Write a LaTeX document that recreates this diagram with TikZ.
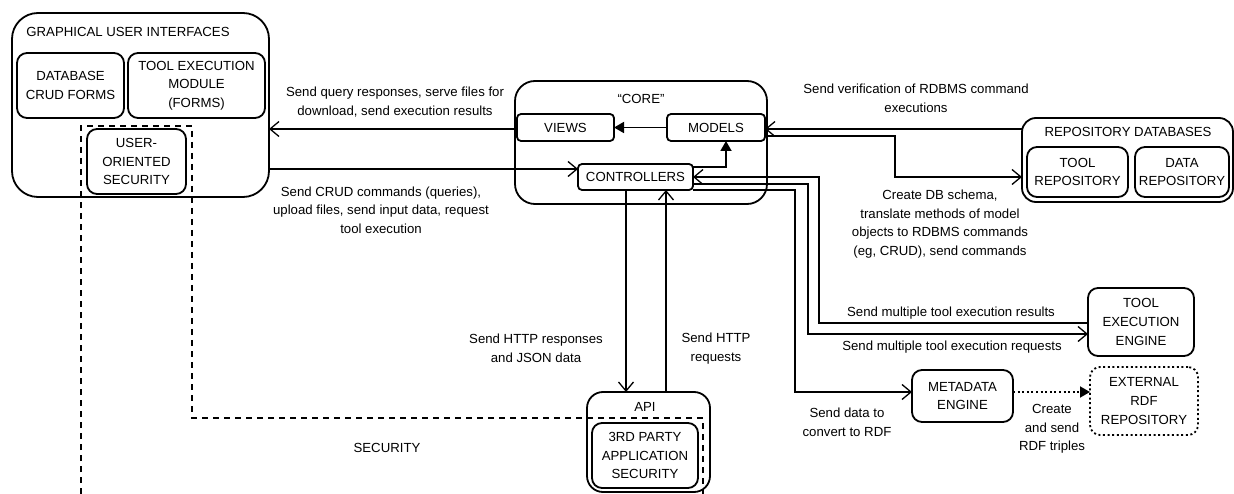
\documentclass[tikz,border=0pt]{standalone}
\usepackage{fontspec}
\setmainfont{Liberation Sans}
\usetikzlibrary{arrows.meta}
\begin{document}
\begin{tikzpicture}[x=1pt,y=-1pt,
  every node/.style={font=\fontsize{13.2}{18.7}\selectfont, align=center, inner sep=0pt, outer sep=0pt},
  bx/.style n args={3}{draw, line width=1.8pt, rounded corners=#1, minimum width=#2, minimum height=#3},
  conn/.style={line width=1.8pt},
  oa/.style={conn, -{Straight Barb[length=9pt,width=15pt,line width=1.3pt]}},
  fa/.style={conn, -{Triangle[length=10pt,width=11pt]}},
  secline/.style={line width=1.8pt, dash pattern=on 6pt off 5pt},
  dotline/.style={dash pattern=on 2pt off 2.6pt},
]
\useasboundingbox (0,0) rectangle (1234,494);

% GUI
\node[bx={26pt}{257pt}{184pt}] (gui) at (140.5,105) {};
\node (guit) at (128,32) {GRAPHICAL USER INTERFACES};
\node[bx={10pt}{107pt}{65pt}] (crud) at (70.5,85.5) {DATABASE\\CRUD FORMS};
\node[bx={10pt}{137pt}{65pt}] (toolmod) at (196.5,85.5) {TOOL EXECUTION\\MODULE\\(FORMS)};
\node[bx={10pt}{99pt}{65pt}] (usersec) at (136.5,161.5) {USER-\\ORIENTED\\SECURITY};

% CORE
\node[bx={20pt}{252pt}{123pt}] (core) at (641,142.5) {};
\node (coret) at (641,99) {“CORE”};
\node[bx={4pt}{97pt}{27pt}] (views) at (565.5,127.5) {VIEWS};
\node[bx={4pt}{98pt}{27pt}] (models) at (716,127.5) {MODELS};
\node[bx={4pt}{115pt}{26pt}] (ctrl) at (635.5,177) {CONTROLLERS};

% Repositories
\node[bx={14pt}{211pt}{84pt}] (repo) at (1127.5,160) {};
\node (repot) at (1128,132) {REPOSITORY DATABASES};
\node[bx={10pt}{101pt}{50pt}] (toolrepo) at (1077.5,172) {TOOL\\REPOSITORY};
\node[bx={10pt}{94pt}{50pt}] (datarepo) at (1182,172) {DATA\\REPOSITORY};

% Engines
\node[bx={10pt}{106pt}{68pt}] (engine) at (1141,322) {TOOL\\EXECUTION\\ENGINE};
\node[bx={10pt}{101pt}{52pt}] (meta) at (962.5,396) {METADATA\\ENGINE};
\node[bx={10pt}{108pt}{68pt}, dotline] (ext) at (1144,401) {EXTERNAL\\RDF\\REPOSITORY};

% API
\node[bx={16pt}{123pt}{100pt}] (api) at (648.5,442) {};
\node (apit) at (645,407) {API};
\node[bx={10pt}{106pt}{65pt}] (tps) at (645,455.5) {3RD PARTY\\APPLICATION\\SECURITY};

% Security boundary
\draw[secline] (81,494) -- (81,126) -- (192,126) -- (192,418) -- (703,418) -- (703,494);
\node (sect) at (387,448) {SECURITY};

% Connectors
\draw[oa] (views.west |- 0,129) -- (gui.east |- 0,129);
\draw[oa] (gui.east |- 0,169) -- (ctrl.west |- 0,169);
\draw[fa] (models.west) -- (views.east);
\draw[fa] (ctrl.east |- 0,167) -- (726,167) -- (models.south -| 726,0);
\draw[oa] (repo.west |- 0,129) -- (models.east |- 0,129);
\draw[oa] (models.east |- 0,136) -- (895,136) -- (895,177) -- (repo.west |- 0,177);
\draw[oa] (engine.west |- 0,323) -- (819,323) -- (819,177) -- (ctrl.east |- 0,177);
\draw[oa] (ctrl.east |- 0,184) -- (808,184) -- (808,334) -- (engine.west |- 0,334);
\draw[oa] (ctrl.east |- 0,190) -- (795,190) -- (795,392) -- (meta.west |- 0,392);
\draw[fa, dotline] (meta.east |- 0,392) -- (ext.west |- 0,392);
\draw[oa] (ctrl.south -| 626,0) -- (api.north -| 626,0);
\draw[oa] (api.north -| 666,0) -- (ctrl.south -| 666,0);

% Labels
\node (l1) at (395,102) {Send query responses, serve files for\\download, send execution results};
\node (l2) at (381,210) {Send CRUD commands (queries),\\upload files, send input data, request\\tool execution};
\node (l3) at (916,98.5) {Send verification of RDBMS command\\executions};
\node (l4) at (940,224) {Create DB schema,\\translate methods of model\\objects to RDBMS commands\\(eg, CRUD), send commands};
\node (l5) at (951,313) {Send multiple tool execution results};
\node (l6) at (952,347) {Send multiple tool execution requests};
\node (l7) at (536,348.5) {Send HTTP responses\\and JSON data};
\node (l8) at (716,348.5) {Send HTTP\\requests};
\node (l9) at (847,422) {Send data to\\convert to RDF};
\node (l10) at (1052,429) {Create\\and send\\RDF triples};
\end{tikzpicture}
\end{document}
